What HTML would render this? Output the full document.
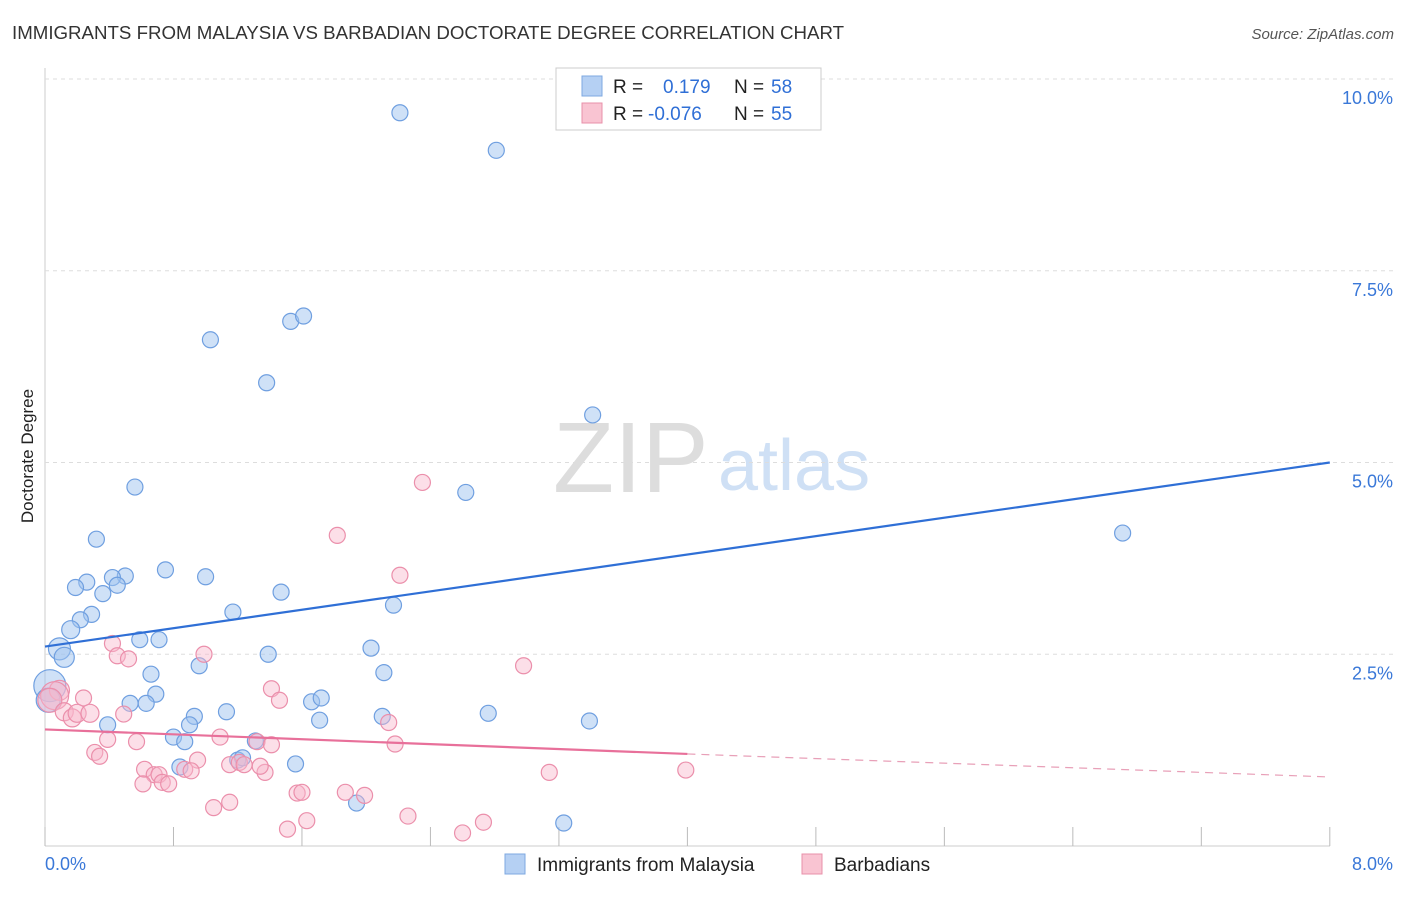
<!DOCTYPE html>
<html><head><meta charset="utf-8"><style>
body{margin:0;background:#fff;font-family:"Liberation Sans",sans-serif}
svg text{font-family:"Liberation Sans",sans-serif}
</style></head><body>
<svg id="c" width="1406" height="892">
<text x="12" y="39" font-size="18.7" fill="#333">IMMIGRANTS FROM MALAYSIA VS BARBADIAN DOCTORATE DEGREE CORRELATION CHART</text>
<text x="1394" y="39" font-size="15" fill="#555" font-style="italic" text-anchor="end">Source: ZipAtlas.com</text>
<text transform="translate(33,456) rotate(-90)" font-size="17" fill="#222" text-anchor="middle">Doctorate Degree</text>
<text x="553" y="492" font-size="100" fill="#ddd" font-family="Liberation Serif">ZIP</text>
<text x="718" y="490" font-size="72" fill="#cfe0f5">atlas</text>
<g id="grid"></g><g id="pts"></g><g id="lines"></g>
<g>
<rect x="556" y="68" width="265" height="62" fill="#fff" stroke="#ccc"/>
<rect x="582" y="76" width="20" height="20" fill="#b5d0f3" stroke="#7ea8e0"/>
<text x="613" y="93" font-size="19" fill="#222">R =</text><text x="663" y="93" font-size="19" fill="#2f6fd6">0.179</text>
<text x="734" y="93" font-size="19" fill="#222">N =</text><text x="771" y="93" font-size="19" fill="#2f6fd6">58</text>
<rect x="582" y="103" width="20" height="20" fill="#f9c4d2" stroke="#e890aa"/>
<text x="613" y="120" font-size="19" fill="#222">R =</text><text x="648" y="120" font-size="19" fill="#2f6fd6">-0.076</text>
<text x="734" y="120" font-size="19" fill="#222">N =</text><text x="771" y="120" font-size="19" fill="#2f6fd6">55</text>
</g>
<g>
<rect x="505" y="854" width="20" height="20" fill="#b5d0f3" stroke="#7ea8e0"/>
<text x="537" y="871" font-size="19" fill="#222">Immigrants from Malaysia</text>
<rect x="802" y="854" width="20" height="20" fill="#f9c4d2" stroke="#e890aa"/>
<text x="834" y="871" font-size="19" fill="#222">Barbadians</text>
</g>
<text x="45" y="870" font-size="18" fill="#3a78d8">0.0%</text>
<text x="1393" y="870" font-size="18" fill="#3a78d8" text-anchor="end">8.0%</text>
</svg>
<script>
const yTicks=[2.5,5,7.5,10];
const xTicks=[0,0.8,1.6,2.4,3.2,4,4.8,5.6,6.4,7.2,8];
const blueX=[2.21,2.81,1.03,1.53,1.61,1.38,3.41,0.56,2.62,6.71,0.32,0.75,1.0,0.5,0.42,0.26,0.45,0.19,0.36,1.47,0.29,2.17,1.17,0.22,0.16,0.09,0.12,0.59,0.71,1.39,2.03,0.96,0.66,2.11,0.03,0.02,0.69,0.53,0.63,1.66,1.72,0.93,1.13,2.76,2.1,1.71,0.39,0.9,3.39,0.8,0.87,1.31,1.2,1.23,0.84,1.56,1.94,3.23];
const blueY=[9.56,9.07,6.6,6.84,6.91,6.04,5.62,4.68,4.61,4.08,4.0,3.6,3.51,3.52,3.5,3.44,3.4,3.37,3.29,3.31,3.02,3.14,3.05,2.95,2.82,2.57,2.46,2.69,2.69,2.5,2.58,2.35,2.24,2.26,2.09,1.9,1.98,1.86,1.86,1.88,1.93,1.69,1.75,1.73,1.69,1.64,1.58,1.58,1.63,1.42,1.36,1.37,1.12,1.15,1.03,1.07,0.56,0.3];
const blueR=[8,8,8,8,8,8,8,8,8,8,8,8,8,8,8,8,8,8,8,8,8,8,8,8,9,11,10,8,8,8,8,8,8,8,16,12,8,8,8,8,8,8,8,8,8,8,8,8,8,8,8,8,8,8,8,8,8,8];
const pinkX=[2.35,1.82,2.21,2.98,0.42,0.45,0.52,0.99,1.41,1.46,0.24,0.09,0.06,0.03,0.12,0.17,0.2,0.28,0.49,2.14,1.09,0.39,0.57,1.32,1.41,0.31,0.34,2.18,0.95,1.15,1.21,1.24,0.62,0.68,0.71,0.87,0.91,1.37,3.14,3.99,0.73,0.77,0.61,1.05,1.15,1.57,1.6,1.87,1.99,2.26,1.63,2.73,1.51,2.6,1.34];
const pinkY=[4.74,4.05,3.53,2.35,2.64,2.48,2.44,2.5,2.05,1.9,1.93,2.03,1.96,1.9,1.75,1.67,1.73,1.73,1.72,1.61,1.42,1.39,1.36,1.36,1.32,1.22,1.17,1.33,1.12,1.06,1.09,1.06,1.0,0.93,0.93,1.0,0.98,0.96,0.96,0.99,0.83,0.81,0.81,0.5,0.57,0.69,0.7,0.7,0.66,0.39,0.33,0.31,0.22,0.17,1.04];
const pinkR=[8,8,8,8,8,8,8,8,8,8,8,10,14,12,9,9,9,9,8,8,8,8,8,8,8,8,8,8,8,8,8,8,8,8,8,8,8,8,8,8,8,8,8,8,8,8,8,8,8,8,8,8,8,8,8];
const blueLine=[2.6,5.0], pinkLine=[1.52,1.2,0.9];
const X=v=>45+v*160.6, Y=v=>846-v*76.7;
const NS="http://www.w3.org/2000/svg";
function mk(t,a,p){const e=document.createElementNS(NS,t);for(const k in a)e.setAttribute(k,a[k]);p.appendChild(e);return e;}
const grid=document.getElementById('grid');
mk('line',{x1:45,y1:68,x2:45,y2:846,stroke:'#ccc'},grid);
mk('line',{x1:45,y1:846,x2:1330,y2:846,stroke:'#ccc'},grid);
yTicks.forEach(t=>{
 const l=mk('line',{x1:45,y1:Y(t),x2:1395,y2:Y(t),stroke:'#ddd','stroke-dasharray':'4,4'},grid);
 
 
 const tx=mk('text',{x:1393,y:Y(t)+25,'font-size':18,fill:'#3a78d8','text-anchor':'end'},grid);
 tx.textContent=t.toFixed(1)+'%';
 
 
});
xTicks.forEach(t=>{
 const l=mk('line',{x1:X(t),y1:827,x2:X(t),y2:846,stroke:'#bbb'},grid);
 
 
});
const pts=document.getElementById('pts');
blueX.forEach((v,i)=>{
 const c=mk('circle',{cx:X(v),cy:Y(blueY[i]),r:blueR[i],fill:'rgba(160,195,240,0.5)',stroke:'#6f9fe0','stroke-width':1.2},pts);
 
 
});
pinkX.forEach((v,i)=>{
 const c=mk('circle',{cx:X(v),cy:Y(pinkY[i]),r:pinkR[i],fill:'rgba(248,185,205,0.45)',stroke:'#eb8fab','stroke-width':1.2},pts);
 
 
});
const ln=document.getElementById('lines');
const b=mk('line',{x1:X(0),y1:Y(blueLine[0]),x2:X(8),y2:Y(blueLine[1]),stroke:'#2f6fd6','stroke-width':2.2},ln);


const p1=mk('line',{x1:X(0),y1:Y(pinkLine[0]),x2:X(4),y2:Y(pinkLine[1]),stroke:'#e8709a','stroke-width':2.2},ln);


const p2=mk('line',{x1:X(4),y1:Y(pinkLine[1]),x2:X(8),y2:Y(pinkLine[2]),stroke:'#e8a0b8','stroke-width':1.2,'stroke-dasharray':'8,6'},ln);


</script>
</body></html>
